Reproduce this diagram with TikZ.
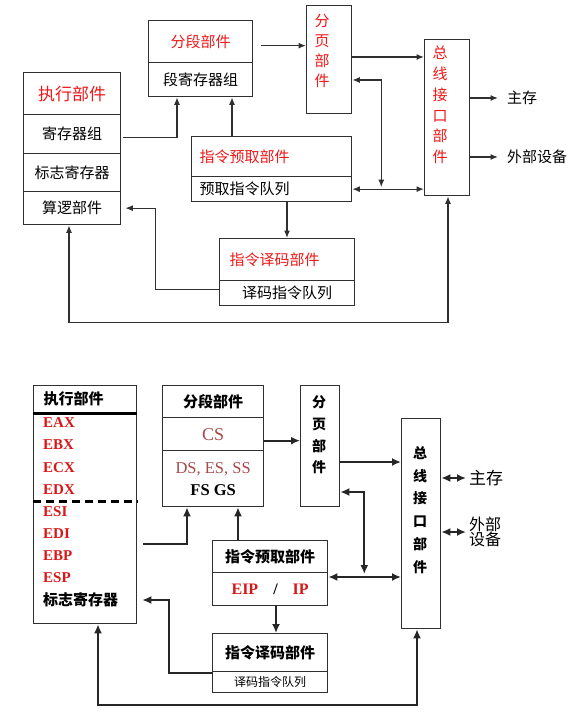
\documentclass[tikz,border=0pt]{standalone}
\usepackage{fontspec}
\setmainfont{Liberation Serif}
\newfontfamily\cjk{Noto Sans CJK SC}
\usetikzlibrary{arrows.meta,calc}
\definecolor{rd}{HTML}{F01818}
\definecolor{rd2}{HTML}{D81818}
\definecolor{brn}{HTML}{A84848}
\definecolor{ln}{HTML}{303030}
\newcommand\myfs[1]{\fontsize{#1}{#1}\selectfont}
\begin{document}
\begin{tikzpicture}[x=1pt,y=-1pt,
 cell/.style={draw=ln, line width=1.3pt, anchor=north west, inner sep=0pt, align=center},
 ctxt/.style={font=\cjk\myfs{15}},
 rtxt/.style={font=\cjk\myfs{15}, text=rd},
 btxt/.style={font=\cjk\bfseries\myfs{15}},
 arrA/.style={draw=ln, line width=1.3pt, -{Latex[length=7.5pt,width=6pt]}},
 arrAA/.style={draw=ln, line width=1.3pt, {Latex[length=7.5pt,width=6pt]}-{Latex[length=7.5pt,width=6pt]}},
 arrB/.style={draw=black!85, line width=2.2pt, -{Latex[length=9pt,width=8pt]}},
 arrBB/.style={draw=black!85, line width=2.2pt, {Latex[length=9pt,width=8pt]}-{Latex[length=9pt,width=8pt]}},
]
\useasboundingbox[fill=white] (0,0) rectangle (584,714);

% ================= upper diagram =================
\node[cell, minimum width=97pt, minimum height=42pt, font=\cjk\myfs{17}, text=rd] (exT) at (23,72) {执行部件};
\node[cell, ctxt, minimum width=97pt, minimum height=39pt] (exR1) at (23,114) {寄存器组};
\node[cell, ctxt, minimum width=97pt, minimum height=38pt] (exR2) at (23,153) {标志寄存器};
\node[cell, ctxt, minimum width=97pt, minimum height=33pt] (exR3) at (23,191) {算逻部件};

\node[cell, rtxt, minimum width=104pt, minimum height=42pt] (segT) at (148,20) {分段部件};
\node[cell, ctxt, minimum width=104pt, minimum height=34pt] (segR) at (148,62) {段寄存器组};

\node[cell, rtxt, minimum width=160pt, minimum height=40pt, text width=144pt, align=left] (pfT) at (191,136) {指令预取部件};
\node[cell, ctxt, minimum width=160pt, minimum height=25pt, text width=144pt, align=left] (pfR) at (191,176) {预取指令队列};

\node[cell, rtxt, minimum width=135pt, minimum height=42pt, text width=115pt, align=left] (decT) at (219,238) {指令译码部件};
\node[cell, ctxt, minimum width=135pt, minimum height=25pt] (decR) at (219,280) {译码指令队列};

\node[cell, minimum width=45pt, minimum height=108pt] (pg) at (306,5) {};
\node[font=\cjk\fontsize{15}{20}\selectfont, text=rd, align=center, inner sep=0pt] (pgL) at (322,51) {分\\页\\部\\件};

\node[cell, minimum width=45pt, minimum height=156pt] (bus) at (424,39) {};
\node[font=\cjk\fontsize{15}{20.8}\selectfont, text=rd, align=center, inner sep=0pt] (busL) at (440,105) {总\\线\\接\\口\\部\\件};

\node[ctxt, anchor=west, inner sep=0pt] (mem) at (507,98) {主存};
\node[ctxt, anchor=west, inner sep=0pt] (dev) at (507,157) {外部设备};

% upper connectors
\coordinate (u1) at ($(segT.east)+(8,4)$);
\draw[arrA] (u1) -- (u1 -| pg.west);
\coordinate (u2) at ($(pg.north east)+(0,52)$);
\draw[arrA] (u2) -- (u2 -| bus.west);
\coordinate (u3) at ($(pg.north east)+(0,75)$);
\coordinate (uj) at ($(pfR.east)+(29,0)$);
\draw[arrAA, shorten >=2pt] (u3) -| (uj);
\draw[arrAA] (pfR.east) -- (pfR.east -| bus.west);
\coordinate (u4s) at ($(exR1.east)+(2,3.5)$);
\coordinate (u4) at ($(segR.south west)+(29,0)$);
\draw[arrA] (u4s) -| (u4);
\coordinate (u5) at ($(pfT.north west)+(41,0)$);
\draw[arrA] (u5) -- (u5 |- segR.south);
\coordinate (u6) at ($(pfR.south west)+(96,0)$);
\draw[arrA] (u6) -- (u6 |- decT.north);
\coordinate (u7) at ($(decR.west)+(0,-4)$);
\coordinate (u8) at ($(exR3.east)+(34,0)$);
\draw[arrA, shorten >=4pt] (u7) -| (u8) -- (exR3.east);
\coordinate (u9) at ($(exR3.south west)+(46,0)$);
\coordinate (u10) at ($(bus.south west)+(24,0)$);
\draw[arrAA] (u9) -- ++(0,97) -| (u10);
\draw[arrA, shorten >=9pt] (bus.east |- mem.west) -- (mem.west);
\draw[arrA, shorten >=9pt] (bus.east |- dev.west) -- (dev.west);

% ================= lower diagram =================
\node[cell, btxt, minimum width=103pt, minimum height=27pt, text width=83pt, align=left] (ex2T) at (33,385) {执行部件};
\node[cell, minimum width=103pt, minimum height=211pt] (ex2B) at (33,412) {};
\draw[line width=2.4pt] (ex2T.south west) -- (ex2T.south east);
\draw[line width=3pt, dash pattern=on 8pt off 5pt] ($(ex2B.north west)+(0,89)$) -- ($(ex2B.north east)+(0,89)$);
\foreach \t [count=\i] in {EAX,EBX,ECX,EDX,ESI,EDI,EBP,ESP}
  \node[anchor=west, inner sep=0pt, font=\bfseries\myfs{15}, text=rd2] (reg\i) at (43,{423+22.1*(\i-1)}) {\t};
\node[anchor=west, inner sep=0pt, btxt] (flag) at (43,600) {标志寄存器};

\node[cell, btxt, minimum width=101pt, minimum height=32pt] (seg2T) at (162,385) {分段部件};
\node[cell, minimum width=101pt, minimum height=33pt, font=\myfs{18}, text=brn] (seg2C) at (162,417) {CS};
\node[cell, minimum width=101pt, minimum height=56pt, font=\fontsize{16.5}{22}\selectfont] (seg2D) at (162,450) {{\color{brn}DS, ES, SS}\\{\bfseries FS GS}};

\node[cell, minimum width=39pt, minimum height=121pt] (pg2) at (300,385) {};
\node[font=\cjk\bfseries\fontsize{14}{21.6}\selectfont, align=center, inner sep=0pt] (pg2L) at (319,435) {分\\页\\部\\件};

\node[cell, btxt, minimum width=115pt, minimum height=32pt] (pf2T) at (212,540) {指令预取部件};
\node[cell, minimum width=115pt, minimum height=33pt, font=\bfseries\myfs{16}] (pf2B) at (212,572) {{\color{rd2}EIP}\hspace{15pt}/\hspace{15pt}{\color{rd2}IP}};

\node[cell, btxt, minimum width=115pt, minimum height=38pt] (dec2T) at (212,633) {指令译码部件};
\node[cell, minimum width=115pt, minimum height=21pt, font=\cjk\myfs{12}] (dec2B) at (212,671) {译码指令队列};

\node[cell, minimum width=39pt, minimum height=210pt] (bus2) at (401,418) {};
\node[font=\cjk\bfseries\fontsize{14}{22.8}\selectfont, align=center, inner sep=0pt] (bus2L) at (420,510) {总\\线\\接\\口\\部\\件};

\node[anchor=west, inner sep=0pt, font=\cjk\myfs{17}] (mem2) at (469,478) {主存};
\node[anchor=west, inner sep=0pt, font=\cjk\fontsize{16}{15.5}\selectfont, align=left] (dev2) at (469,532) {外部\\设备};

% lower connectors
\coordinate (a1) at ($(seg2C.east)+(0,6.5)$);
\draw[arrB] (a1) -- (a1 -| pg2.west);
\coordinate (a2) at ($(pg2.north east)+(0,77)$);
\draw[arrB] (a2) -- (a2 -| bus2.west);
\coordinate (a3) at ($(pg2.north east)+(0,107)$);
\coordinate (aj) at ($(pf2B.north east)+(36,5)$);
\draw[arrBB, shorten >=3pt] (a3) -| (aj);
\coordinate (a4) at ($(pf2B.north east)+(0,5)$);
\draw[arrBB] (a4) -- (a4 -| bus2.west);
\coordinate (a5) at ($(ex2B.north east)+(6,132)$);
\coordinate (a6) at ($(seg2D.south west)+(25,0)$);
\draw[arrB] (a5) -| (a6);
\coordinate (a7) at ($(pf2T.north west)+(26,0)$);
\draw[arrB] (a7) -- (a7 |- seg2D.south);
\coordinate (a8) at ($(pf2B.south west)+(64,0)$);
\draw[arrB] (a8) -- (a8 |- dec2T.north);
\coordinate (a9) at ($(dec2B.north west)+(0,2)$);
\coordinate (a10) at ($(ex2B.north east)+(32,188)$);
\draw[arrB, shorten >=5pt] (a9) -| (a10) -- (a10 -| ex2B.east);
\coordinate (a11) at ($(ex2B.south west)+(65,0)$);
\coordinate (a12) at ($(bus2.south west)+(16,0)$);
\draw[arrBB] (a11) -- ++(0,81) -| (a12);
\draw[arrBB, shorten >=3pt] (bus2.east |- mem2.west) -- (mem2.west);
\draw[arrBB, shorten >=3pt] (bus2.east |- dev2.west) -- (dev2.west);
\end{tikzpicture}
\end{document}
